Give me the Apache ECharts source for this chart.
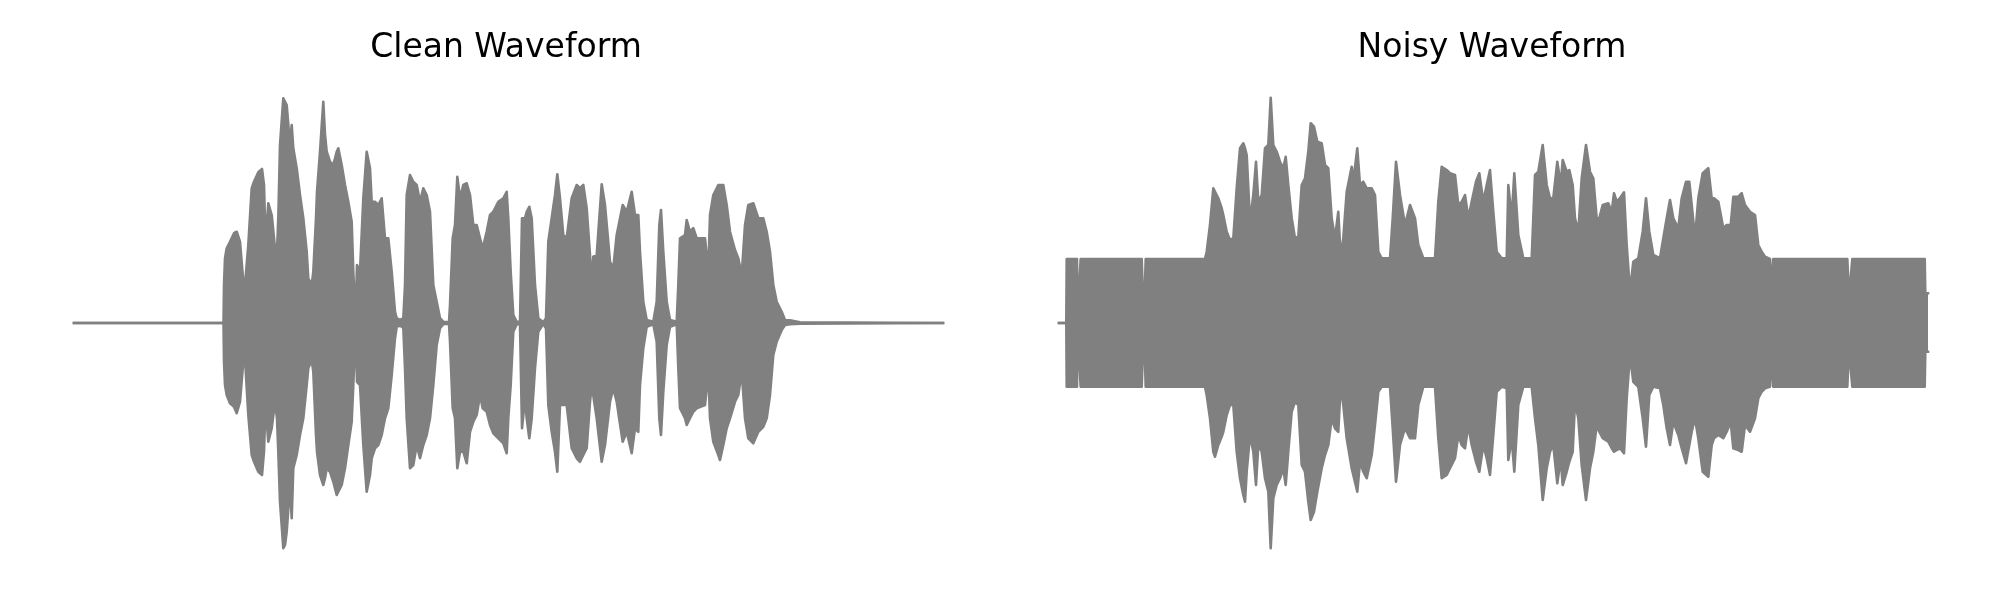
<!DOCTYPE html>
<html><head><meta charset="utf-8">
<script src="https://cdn.jsdelivr.net/npm/echarts@6/dist/echarts.min.js"></script>
<style>html,body{margin:0;padding:0;background:#fff}#c{width:2000px;height:600px}</style>
</head><body><div id="c"></div>
<script>
// Panel titles
const panelTitles = ['Clean Waveform', 'Noisy Waveform'];

// Clean waveform: min/max envelope (time in s, amplitude)
const cleanTime = [0.000,1.495,1.500,1.510,1.527,1.560,1.600,1.627,1.660,1.693,1.710,1.743,1.777,1.800,1.843,1.880,1.900,1.915,1.943,1.977,2.010,2.030,2.043,2.060,2.093,2.110,2.127,2.160,2.177,2.193,2.227,2.260,2.293,2.327,2.343,2.377,2.393,2.420,2.430,2.460,2.493,2.510,2.527,2.560,2.593,2.627,2.643,2.677,2.710,2.743,2.777,2.793,2.815,2.830,2.860,2.893,2.927,2.960,2.977,3.010,3.043,3.077,3.110,3.143,3.177,3.210,3.227,3.260,3.293,3.310,3.327,3.360,3.393,3.427,3.460,3.493,3.527,3.560,3.593,3.627,3.660,3.693,3.750,3.760,3.787,3.810,3.833,3.860,3.893,3.927,3.960,3.993,4.027,4.060,4.087,4.127,4.160,4.193,4.243,4.293,4.327,4.343,4.367,4.393,4.427,4.460,4.480,4.510,4.527,4.553,4.577,4.610,4.643,4.693,4.720,4.743,4.777,4.810,4.833,4.860,4.893,4.927,4.977,5.027,5.060,5.093,5.127,5.160,5.177,5.193,5.227,5.277,5.310,5.360,5.393,5.427,5.487,5.527,5.577,5.610,5.643,5.660,5.693,5.727,5.793,5.827,5.853,5.870,5.893,5.927,5.960,6.027,6.043,6.060,6.110,6.127,6.160,6.193,6.227,6.310,6.343,6.360,6.393,6.443,6.460,6.493,6.527,6.560,6.610,6.643,6.677,6.710,6.743,6.793,6.843,6.893,6.927,6.960,6.993,7.027,7.077,7.110,7.160,7.260,8.690];
const cleanUpper = [0,0,0.152,0.259,0.299,0.325,0.359,0.365,0.325,0.165,0.152,0.312,0.539,0.565,0.603,0.616,0.552,0.325,0.479,0.432,0.299,0.285,0.419,0.712,0.899,0.899,0.872,0.712,0.792,0.699,0.619,0.512,0.419,0.285,0.179,0.152,0.205,0.419,0.525,0.685,0.885,0.752,0.685,0.645,0.632,0.685,0.699,0.632,0.552,0.485,0.405,0.205,0.019,0.232,0.205,0.499,0.685,0.619,0.485,0.485,0.472,0.499,0.339,0.339,0.205,0.045,0.019,0.012,0.019,0.152,0.512,0.592,0.565,0.552,0.485,0.539,0.512,0.445,0.152,0.085,0.019,0.005,0.003,0.072,0.339,0.392,0.585,0.499,0.552,0.559,0.512,0.392,0.392,0.339,0.299,0.365,0.432,0.445,0.485,0.499,0.525,0.419,0.205,0.032,0.005,0.005,0.419,0.419,0.445,0.465,0.419,0.152,0.019,0.003,0.019,0.325,0.419,0.512,0.595,0.499,0.352,0.339,0.499,0.552,0.539,0.552,0.459,0.272,0.152,0.265,0.272,0.555,0.472,0.245,0.219,0.352,0.472,0.445,0.525,0.432,0.432,0.285,0.085,0.012,0.005,0.085,0.392,0.452,0.285,0.085,0.012,0.005,0.152,0.339,0.352,0.412,0.365,0.379,0.339,0.339,0.205,0.432,0.512,0.552,0.552,0.552,0.472,0.365,0.292,0.259,0.192,0.392,0.472,0.479,0.419,0.419,0.365,0.285,0.152,0.085,0.045,0.012,0.011,0.003,0];
const cleanLower = [0,0,-0.155,-0.248,-0.288,-0.321,-0.335,-0.361,-0.315,-0.155,-0.141,-0.368,-0.528,-0.555,-0.595,-0.608,-0.515,-0.328,-0.475,-0.421,-0.315,-0.381,-0.515,-0.715,-0.901,-0.888,-0.835,-0.648,-0.781,-0.581,-0.528,-0.448,-0.381,-0.248,-0.181,-0.148,-0.195,-0.448,-0.515,-0.608,-0.648,-0.621,-0.581,-0.595,-0.635,-0.688,-0.675,-0.648,-0.581,-0.488,-0.395,-0.248,-0.021,-0.235,-0.248,-0.488,-0.675,-0.608,-0.541,-0.501,-0.488,-0.448,-0.381,-0.341,-0.208,-0.061,-0.015,-0.011,-0.019,-0.181,-0.381,-0.581,-0.568,-0.488,-0.541,-0.488,-0.448,-0.381,-0.248,-0.088,-0.021,-0.005,-0.003,-0.075,-0.341,-0.381,-0.581,-0.515,-0.515,-0.561,-0.435,-0.395,-0.368,-0.288,-0.341,-0.355,-0.408,-0.441,-0.461,-0.481,-0.521,-0.381,-0.248,-0.035,-0.005,-0.005,-0.421,-0.301,-0.381,-0.461,-0.381,-0.181,-0.035,-0.003,-0.021,-0.328,-0.435,-0.515,-0.595,-0.328,-0.328,-0.328,-0.501,-0.541,-0.555,-0.528,-0.501,-0.315,-0.248,-0.248,-0.381,-0.555,-0.488,-0.315,-0.261,-0.315,-0.475,-0.435,-0.521,-0.421,-0.435,-0.248,-0.101,-0.015,-0.005,-0.075,-0.381,-0.448,-0.275,-0.088,-0.015,-0.005,-0.181,-0.341,-0.381,-0.408,-0.381,-0.355,-0.341,-0.328,-0.195,-0.381,-0.475,-0.528,-0.548,-0.488,-0.421,-0.381,-0.315,-0.288,-0.195,-0.381,-0.461,-0.481,-0.435,-0.415,-0.381,-0.288,-0.128,-0.075,-0.028,-0.008,-0.005,-0.003,0];

// Noisy waveform: min/max envelope (time in s, amplitude)
const noisyTime = [0.000,0.073,0.077,0.180,0.183,0.217,0.827,0.840,0.853,0.867,1.460,1.477,1.510,1.543,1.560,1.593,1.627,1.643,1.677,1.710,1.743,1.777,1.810,1.843,1.860,1.877,1.910,1.943,1.970,1.993,2.027,2.060,2.093,2.117,2.143,2.177,2.210,2.243,2.267,2.293,2.327,2.360,2.393,2.427,2.460,2.493,2.517,2.550,2.583,2.627,2.660,2.693,2.727,2.760,2.793,2.817,2.843,2.877,2.927,2.943,2.983,3.010,3.043,3.077,3.127,3.160,3.193,3.227,3.310,3.337,3.370,3.410,3.460,3.510,3.560,3.593,3.643,3.760,3.793,3.827,3.877,3.910,3.960,3.993,4.027,4.060,4.093,4.127,4.170,4.203,4.243,4.277,4.310,4.343,4.377,4.427,4.477,4.493,4.527,4.553,4.593,4.643,4.727,4.760,4.793,4.837,4.877,4.910,4.943,4.983,5.017,5.037,5.077,5.103,5.137,5.160,5.193,5.227,5.270,5.310,5.343,5.377,5.403,5.437,5.493,5.527,5.550,5.577,5.610,5.650,5.677,5.710,5.743,5.793,5.837,5.870,5.903,5.943,6.010,6.043,6.077,6.110,6.143,6.193,6.227,6.270,6.303,6.327,6.360,6.393,6.437,6.493,6.527,6.550,6.593,6.643,6.677,6.717,6.743,6.793,6.827,6.860,6.910,6.960,6.993,7.027,7.060,7.110,7.127,7.143,7.883,7.900,7.933,8.657,8.663,8.690];
const noisyUpper = [0,0,0.256,0.256,0.030,0.256,0.256,0.100,0.050,0.256,0.256,0.285,0.392,0.539,0.545,0.499,0.459,0.432,0.365,0.332,0.339,0.539,0.699,0.719,0.699,0.672,0.405,0.512,0.645,0.485,0.512,0.699,0.712,0.901,0.712,0.685,0.645,0.619,0.665,0.552,0.419,0.339,0.345,0.552,0.579,0.685,0.799,0.785,0.725,0.719,0.632,0.619,0.419,0.339,0.445,0.259,0.339,0.525,0.625,0.565,0.699,0.552,0.565,0.539,0.539,0.512,0.285,0.259,0.259,0.419,0.645,0.512,0.392,0.472,0.419,0.312,0.259,0.259,0.485,0.625,0.612,0.599,0.592,0.472,0.485,0.512,0.419,0.485,0.565,0.599,0.485,0.552,0.612,0.445,0.285,0.259,0.259,0.552,0.419,0.599,0.352,0.259,0.259,0.592,0.605,0.712,0.552,0.499,0.499,0.645,0.552,0.652,0.605,0.612,0.552,0.419,0.365,0.579,0.712,0.605,0.579,0.419,0.419,0.472,0.479,0.445,0.519,0.485,0.499,0.523,0.312,0.125,0.245,0.259,0.365,0.499,0.365,0.272,0.259,0.339,0.419,0.492,0.419,0.379,0.499,0.565,0.565,0.472,0.339,0.499,0.599,0.619,0.499,0.499,0.485,0.379,0.392,0.392,0.505,0.505,0.519,0.472,0.445,0.432,0.312,0.285,0.265,0.256,0.125,0.256,0.256,0.100,0.256,0.256,0.119,0.119];
const noisyLower = [0,0,-0.255,-0.255,-0.030,-0.255,-0.255,-0.100,-0.050,-0.255,-0.255,-0.288,-0.381,-0.515,-0.535,-0.488,-0.455,-0.435,-0.368,-0.328,-0.328,-0.515,-0.621,-0.688,-0.715,-0.595,-0.448,-0.515,-0.648,-0.488,-0.515,-0.621,-0.675,-0.901,-0.701,-0.648,-0.621,-0.581,-0.648,-0.515,-0.355,-0.315,-0.328,-0.568,-0.595,-0.715,-0.788,-0.755,-0.675,-0.581,-0.528,-0.488,-0.381,-0.421,-0.435,-0.248,-0.328,-0.461,-0.581,-0.608,-0.675,-0.555,-0.595,-0.621,-0.528,-0.408,-0.275,-0.255,-0.255,-0.421,-0.635,-0.488,-0.421,-0.461,-0.461,-0.328,-0.255,-0.255,-0.461,-0.621,-0.608,-0.581,-0.541,-0.448,-0.488,-0.501,-0.408,-0.488,-0.555,-0.595,-0.488,-0.541,-0.608,-0.448,-0.275,-0.255,-0.261,-0.548,-0.461,-0.595,-0.328,-0.255,-0.255,-0.381,-0.488,-0.708,-0.581,-0.515,-0.488,-0.641,-0.541,-0.648,-0.595,-0.555,-0.515,-0.315,-0.381,-0.568,-0.708,-0.581,-0.515,-0.408,-0.435,-0.461,-0.475,-0.501,-0.515,-0.508,-0.501,-0.521,-0.301,-0.128,-0.235,-0.255,-0.381,-0.495,-0.288,-0.255,-0.261,-0.328,-0.421,-0.488,-0.395,-0.448,-0.501,-0.561,-0.488,-0.435,-0.381,-0.461,-0.595,-0.615,-0.488,-0.461,-0.448,-0.461,-0.435,-0.395,-0.501,-0.508,-0.515,-0.408,-0.435,-0.381,-0.301,-0.275,-0.261,-0.255,-0.115,-0.255,-0.255,-0.100,-0.255,-0.255,-0.115,-0.115];

const GREY = '#808080';
function pairs(t, v) { return t.map((x, i) => [x, v[i]]); }
function envSeries(idx, t, v) {
  return {
    type: 'line', xAxisIndex: idx, yAxisIndex: idx,
    data: pairs(t, v), symbol: 'none', showSymbol: false, silent: true,
    lineStyle: { color: GREY, width: 2.6, cap: 'square', join: 'round' },
    areaStyle: { color: GREY, opacity: 1, origin: 0 }
  };
}

const chart = echarts.init(document.getElementById('c'), null, { renderer: 'canvas' });
const titleStyle = { fontFamily: 'DejaVu Sans', fontSize: 33, fontWeight: 'normal', color: '#000' };
chart.setOption({
  animation: false,
  backgroundColor: '#ffffff',
  title: [
    { text: panelTitles[0], left: 506, top: 32, textAlign: 'center', padding: 0, textStyle: titleStyle },
    { text: panelTitles[1], left: 1492, top: 32, textAlign: 'center', padding: 0, textStyle: titleStyle }
  ],
  grid: [
    { left: 74, width: 870, top: 73, height: 500 },
    { left: 1059, width: 870, top: 73, height: 500 }
  ],
  xAxis: [
    { type: 'value', gridIndex: 0, min: 0, max: 8.7, show: false },
    { type: 'value', gridIndex: 1, min: 0, max: 8.7, show: false }
  ],
  yAxis: [
    { type: 'value', gridIndex: 0, min: -1, max: 1, show: false },
    { type: 'value', gridIndex: 1, min: -1, max: 1, show: false }
  ],
  series: [
    envSeries(0, cleanTime, cleanUpper),
    envSeries(0, cleanTime, cleanLower),
    envSeries(1, noisyTime, noisyUpper),
    envSeries(1, noisyTime, noisyLower)
  ]
});
</script>
</body></html>
